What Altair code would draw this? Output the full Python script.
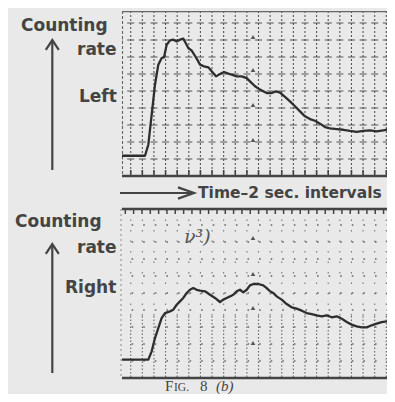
import altair as alt
import pandas as pd

# ---- data ----
# time in seconds (grid lines every 2 s), counting rate in chart-paper divisions
left_t = [-1.5, 2.46, 3.03, 3.61, 4.18, 4.75, 5.33, 5.73, 6.19, 6.76, 7.33, 7.92, 8.48, 9.05, 9.46,
          9.91, 10.5, 11.19, 11.93, 12.62, 13.36, 13.94, 14.68, 15.37, 16.06, 16.8, 17.38, 18.24,
          19.1, 19.97, 20.53, 21.4, 22.26, 23.41, 24.27, 25.01, 25.7, 26.56, 27.42, 28.28, 29.14,
          30.0, 30.86, 31.72, 32.58, 33.45, 34.31, 35.46, 36.6, 37.75, 38.9, 40.04, 41.19, 42.34,
          43.49, 44.63, 45.5]
left_rate = [1.19, 1.19, 1.84, 3.61, 5.37, 6.55, 6.94, 6.98, 7.72, 7.98, 8.02, 7.92, 8.02, 8.08, 7.82,
             7.53, 7.37, 7.0, 6.55, 6.45, 6.39, 6.16, 5.86, 6.0, 6.12, 6.02, 5.96, 5.86, 5.86, 5.76,
             5.57, 5.28, 5.08, 4.88, 4.88, 4.98, 4.9, 4.65, 4.39, 4.1, 3.8, 3.51, 3.35, 3.25, 3.08,
             2.88, 2.8, 2.76, 2.72, 2.65, 2.59, 2.65, 2.69, 2.63, 2.69, 2.75, 2.72]

right_t = [-1.5, 3.03, 3.61, 4.18, 4.75, 5.33, 5.9, 6.76, 7.33, 7.92, 8.48, 9.05, 9.64, 10.2, 10.77,
           11.36, 11.93, 12.79, 13.65, 14.51, 15.37, 15.94, 16.52, 17.09, 17.66, 18.24, 18.81, 19.38,
           19.97, 20.53, 21.1, 21.96, 22.82, 23.41, 23.98, 24.55, 25.13, 25.99, 26.85, 27.71, 28.57,
           29.44, 30.3, 31.16, 32.02, 32.88, 33.74, 34.6, 35.46, 36.32, 37.18, 38.04, 38.9, 39.77,
           40.63, 41.49, 42.35, 43.21, 44.07, 45.5]
right_rate = [1.08, 1.08, 1.57, 2.35, 2.94, 3.53, 3.82, 3.92, 4.02, 4.31, 4.51, 4.71, 5.0, 5.19, 5.29,
              5.19, 5.14, 5.1, 4.9, 4.71, 4.47, 4.61, 4.71, 4.8, 4.9, 5.1, 5.19, 5.04, 5.19, 5.45,
              5.53, 5.53, 5.45, 5.29, 5.1, 5.0, 4.8, 4.61, 4.35, 4.16, 4.08, 3.96, 3.82, 3.76, 3.69,
              3.63, 3.69, 3.57, 3.63, 3.49, 3.29, 3.14, 3.04, 2.98, 2.98, 3.1, 3.2, 3.29, 3.33, 3.43]

grid_t = [0, 2, 4, 6, 8, 10, 12, 14, 16, 18, 20, 22, 24, 26, 28, 30, 32, 34, 36, 38, 40, 42, 44]
top_levels = [1, 2, 3, 4, 5, 6, 7, 8, 9]
bottom_levels = [1, 2, 3, 4, 5, 6, 7, 8, 9]
bottom_ticks_t = [-0.93, 0.5, 1.94, 3.37, 4.81, 6.24, 7.67, 9.11, 10.54, 11.98, 13.41, 14.85, 16.28,
                  17.71, 19.15, 20.58, 22.02, 23.45, 24.89, 26.32, 27.75, 29.19, 30.62, 32.06, 33.49,
                  34.93, 36.36, 37.79, 39.23, 40.66, 42.1, 43.53]
pen_t = [21.05, 21.05, 21.05, 21.05]
left_pen = [2.12, 4.18, 6.24, 8.18]
right_pen = [2.06, 4.12, 6.12, 8.24]

# ---- layout ----
W, H = 265, 367
T_MAX = 44.12          # time at the right edge of the visible strip
UNIT = 17.0
TOP_BOX = 165          # bottom edge of upper panel (px from plot top)
BOT_TOP = 198          # top edge of lower panel
top_dom = [-(H - TOP_BOX) / UNIT, TOP_BOX / UNIT]
bot_dom = [0, H / UNIT]

INK = "#444444"
PAPER = "#e9e9e9"
ONE = pd.DataFrame({"k": [0]})

xs = alt.Scale(domain=[-1.5, T_MAX], nice=False, zero=False)
ys_top = alt.Scale(domain=top_dom, nice=False, zero=False)
ys_bot = alt.Scale(domain=bot_dom, nice=False, zero=False)


def X(f):
    return alt.X(f, type="quantitative", scale=xs, axis=None)


def static_rule(**kw):
    enc = {k: alt.value(v) for k, v in kw.pop("enc").items()}
    return alt.Chart(ONE).mark_rule(**kw).encode(**enc)


# ---- upper panel ----
top_grid_df = pd.DataFrame({"t": grid_t})
top_v = alt.Chart(top_grid_df).mark_rule(color="#555", strokeWidth=1.1, strokeDash=[2, 2]).encode(
    x=X("t"), y=alt.value(0), y2=alt.value(TOP_BOX))
top_ticks = alt.Chart(top_grid_df).mark_rule(color=INK, strokeWidth=1.6).encode(
    x=X("t"), y=alt.value(TOP_BOX - 6), y2=alt.value(TOP_BOX))
top_h = alt.Chart(pd.DataFrame({"v": top_levels})).mark_rule(
    color="#555", strokeWidth=1.2, strokeDash=[7, 4.62], strokeDashOffset=6.4).encode(
    y=alt.Y("v:Q", scale=ys_top, axis=None), x=alt.value(0), x2=alt.value(W))
top_frame_t = static_rule(color="#666", strokeWidth=1.2, enc=dict(x=0, x2=W, y=0.6))
top_frame_l = static_rule(color="#666", strokeWidth=1.1, strokeDash=[3, 2], enc=dict(x=0.5, y=0, y2=TOP_BOX))
top_frame_b = static_rule(color=INK, strokeWidth=2.6, enc=dict(x=0, x2=W, y=TOP_BOX))
top_pen = alt.Chart(pd.DataFrame({"t": pen_t, "v": left_pen})).mark_point(
    shape="triangle-up", filled=True, size=22, color="#555", opacity=1).encode(
    x=X("t"), y=alt.Y("v:Q", scale=ys_top, axis=None))
top_line = alt.Chart(pd.DataFrame({"t": left_t, "v": left_rate})).mark_line(
    color="#2e2e2e", strokeWidth=2.3, strokeJoin="round", clip=True).encode(
    x=X("t"), y=alt.Y("v:Q", scale=ys_top, axis=None))
top = alt.layer(top_v, top_h, top_ticks, top_frame_t, top_frame_l, top_frame_b, top_pen, top_line)

# ---- lower panel ----
bot_v = alt.Chart(top_grid_df).mark_rule(color="#666", strokeWidth=1.1, strokeDash=[1.5, 2]).encode(
    x=X("t"), y=alt.value(H - 62), y2=alt.value(H))
bot_v_sparse = alt.Chart(top_grid_df).mark_rule(color="#777", strokeWidth=1.1, strokeDash=[1.5, 9]).encode(
    x=X("t"), y=alt.value(BOT_TOP), y2=alt.value(H - 62))
bot_h = alt.Chart(pd.DataFrame({"v": bottom_levels})).mark_rule(
    color="#666", strokeWidth=1.3, strokeDash=[1.6, 9.99], strokeDashOffset=2).encode(
    y=alt.Y("v:Q", scale=ys_bot, axis=None), x=alt.value(0), x2=alt.value(W))
bot_ticks = alt.Chart(pd.DataFrame({"t": bottom_ticks_t})).mark_rule(color=INK, strokeWidth=1.5).encode(
    x=X("t"), y=alt.value(BOT_TOP), y2=alt.value(BOT_TOP + 5))
bot_frame_t = static_rule(color=INK, strokeWidth=2.6, enc=dict(x=0, x2=W, y=BOT_TOP))
bot_frame_b = static_rule(color=INK, strokeWidth=2.6, enc=dict(x=0, x2=W, y=H))
bot_frame_l = static_rule(color="#888", strokeWidth=1, strokeDash=[2, 3], enc=dict(x=-1, y=BOT_TOP, y2=H))
bot_pen = alt.Chart(pd.DataFrame({"t": pen_t, "v": right_pen})).mark_point(
    shape="triangle-up", filled=True, size=22, color="#555", opacity=1).encode(
    x=X("t"), y=alt.Y("v:Q", scale=ys_bot, axis=None))
bot_line = alt.Chart(pd.DataFrame({"t": right_t, "v": right_rate})).mark_line(
    color="#2e2e2e", strokeWidth=2.3, strokeJoin="round", clip=True).encode(
    x=X("t"), y=alt.Y("v:Q", scale=ys_bot, axis=None))
bottom = alt.layer(bot_v, bot_v_sparse, bot_h, bot_ticks, bot_frame_t, bot_frame_b, bot_frame_l,
                   bot_pen, bot_line)


# ---- text and arrows ----
def label(text, x, y, size=17, font="DejaVu Sans", weight="bold", style="normal", color=INK):
    return alt.Chart(ONE).mark_text(
        text=text, align="left", baseline="alphabetic", font=font, fontSize=size,
        fontWeight=weight, fontStyle=style, color=color).encode(x=alt.value(x), y=alt.value(y))


def up_arrow(x, tip, bottom_y):
    shaft = static_rule(color=INK, strokeWidth=2.2, enc=dict(x=x, y=tip + 1, y2=bottom_y))
    head = alt.Chart(ONE).mark_point(
        shape="M -1 0.75 L 0 -0.75 L 1 0.75", filled=False, size=169, color=INK,
        strokeWidth=2.2, opacity=1).encode(x=alt.value(x), y=alt.value(tip + 4.9))
    return [shaft, head]


texts = [
    label("Counting", -101, 20),
    label("rate", -45, 44),
    label("Left", -43, 91),
    *up_arrow(-69.7, 29, 159),
    static_rule(color=INK, strokeWidth=2.2, enc=dict(x=-2, x2=71, y=182)),
    alt.Chart(ONE).mark_point(shape="M -1 -0.7 L 1 0 L -1 0.7", filled=False, size=256, color=INK,
                              strokeWidth=2.2, opacity=1).encode(x=alt.value(64), y=alt.value(182)),
    label("Time–2 sec. intervals", 76, 187, size=15.5),
    label("Counting", -107, 216),
    label("rate", -45, 242),
    label("Right", -57, 282),
    *up_arrow(-69.7, 233, 362),
    label("ν³)", 62, 232, size=19, font="DejaVu Serif", weight="normal", style="italic", color="#555"),
    label("F", 43, 380, size=15, font="Liberation Serif", weight="normal"),
    label("IG.", 52, 380, size=11.5, font="Liberation Serif", weight="normal"),
    label("8", 78, 380, size=15, font="Liberation Serif", weight="normal"),
    label("(b)", 94, 380, size=15, font="Liberation Serif", weight="normal", style="italic"),
]
labels = alt.layer(*texts)

chart = alt.layer(top, bottom, labels).resolve_scale(y="independent").properties(
    width=W, height=H,
    autosize=alt.AutoSizeParams(type="none"),
    padding={"left": 114, "top": 3, "right": 0, "bottom": 16},
    background=PAPER,
).configure_view(stroke=None)

chart.save("out.html", embed_options={"renderer": "svg", "actions": False})
